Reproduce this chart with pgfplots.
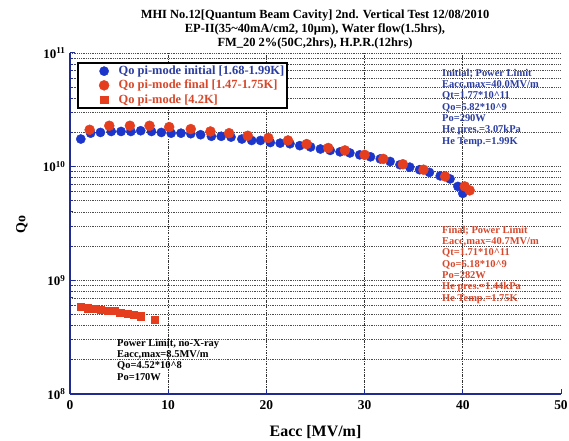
\documentclass[border=0pt]{standalone}
\usepackage{pgfplots}
\pgfplotsset{compat=1.18}
\usepackage{fontspec}
\setmainfont{Liberation Serif}
\definecolor{qblue}{HTML}{1C36CC}
\definecolor{qred}{HTML}{E43E1E}
\definecolor{tblue}{HTML}{2B3DA0}
\definecolor{tred}{HTML}{D8472A}
\definecolor{axnavy}{HTML}{1F2B8F}
\pgfplotsset{markleg/.style={legend image code/.code={\path (0bp,0bp) (38bp,0bp); \draw[##1] plot coordinates {(24bp,0bp)};}}}

\begin{document}
\begin{tikzpicture}
\useasboundingbox (-70bp,-47bp) rectangle (499bp,394bp);
\begin{axis}[
  at={(0,0)}, anchor=south west,
  scale only axis, width=491bp, height=341bp,
  xmin=0, xmax=50, ymin=1e8, ymax=1e11,
  ymode=log,
  axis x line=bottom, axis y line=left,
  axis line style={axnavy, line width=1.3bp, -},
  tick align=inside,
  tick style={axnavy, line width=1bp},
  major tick length=5bp, minor tick length=3.5bp,
  xtick={10,20,30,40},
  extra x ticks={0,50},
  extra x tick style={grid=none},
  ytick={1e8,1e9,1e10,1e11},
  yticklabels={\textbf{10}\textsuperscript{\textbf{8}},\textbf{10}\textsuperscript{\textbf{9}},\textbf{10}\textsuperscript{\textbf{10}},\textbf{10}\textsuperscript{\textbf{11}}},
  minor ytick={2e8,3e8,4e8,5e8,6e8,7e8,8e8,9e8,2e9,3e9,4e9,5e9,6e9,7e9,8e9,9e9,2e10,3e10,4e10,5e10,6e10,7e10,8e10,9e10},
  xmajorgrids, ymajorgrids, yminorgrids,
  x grid style={black!80, line width=0.8bp, dash pattern=on 2.5bp off 1.2bp on 0.8bp off 1.2bp},
  y grid style={black!70, line width=0.75bp, dash pattern=on 0.8bp off 1bp},
  /pgf/number format/assume math mode=true,
  x tick label style={font=\fontsize{13.5}{14}\selectfont\bfseries, yshift=-3bp},
  y tick label style={font=\fontsize{13}{14}\selectfont\bfseries, xshift=-1bp},
  xlabel={Eacc [MV/m]},
  xlabel style={font=\fontsize{16}{18}\selectfont\bfseries, at={(axis description cs:0.5,0)}, anchor=center, yshift=-38bp},
  ylabel={Qo},
  ylabel style={font=\fontsize{14}{16}\selectfont\bfseries, at={(axis description cs:-0.098,0.496)}, anchor=center},
  legend style={at={(axis description cs:0.0143,0.9736)}, anchor=north west,
    draw=black, line width=2.2bp, fill=white, inner xsep=2bp, inner ysep=2.5bp,
    font=\fontsize{12.5}{13}\selectfont\bfseries, row sep=3bp,
    nodes={inner sep=0.5bp}},
  legend cell align=left,
]
\addplot[draw=none, mark=*, mark size=4.6bp, mark options={draw=qblue, fill=qblue, line width=0.4bp}, markleg]
coordinates {
(1.1,1.75e10) (2.1,1.97e10) (3.1,2.0e10) (4.2,2.04e10) (5.2,2.04e10) (6.2,2.04e10)
(7.2,2.07e10) (8.3,2.04e10) (9.3,2.0e10) (10.3,1.97e10) (11.3,1.97e10) (12.3,1.95e10)
(13.3,1.91e10) (14.4,1.85e10) (15.4,1.85e10) (16.4,1.82e10) (17.5,1.75e10) (18.5,1.70e10)
(19.4,1.70e10) (20.4,1.63e10) (21.4,1.61e10) (22.4,1.59e10) (23.4,1.53e10) (24.5,1.49e10)
(25.5,1.43e10) (26.5,1.39e10) (27.5,1.35e10) (28.5,1.32e10) (29.5,1.27e10) (30.6,1.22e10)
(31.6,1.17e10) (32.6,1.11e10) (33.6,1.04e10) (34.6,9.9e9) (35.6,9.4e9) (36.6,8.9e9)
(37.7,8.3e9) (38.7,7.8e9) (39.5,6.7e9) (40.0,5.82e9)
};
\addlegendentry{\textcolor{tblue}{Qo pi-mode initial [1.68-1.99K]}}
\addplot[draw=none, mark=*, mark size=5bp, mark options={draw=qred, fill=qred, line width=0.4bp}, markleg]
coordinates {
(2.0,2.11e10) (4.0,2.29e10) (6.1,2.29e10) (8.1,2.29e10) (10.1,2.23e10) (12.3,2.14e10)
(14.3,2.04e10) (16.2,1.97e10) (18.1,1.87e10) (20.2,1.79e10) (22.2,1.70e10) (24.1,1.58e10)
(26.3,1.46e10) (28.0,1.39e10) (30.0,1.27e10) (31.9,1.17e10) (33.9,1.05e10) (36.0,9.4e9)
(38.2,8.2e9) (40.2,6.7e9) (40.7,6.18e9)
};
\addlegendentry{\textcolor{tred}{Qo pi-mode final [1.47-1.75K]}}
\addplot[draw=none, mark=square*, mark size=3.6bp, mark options={draw=qred, fill=qred, line width=0.3bp}, markleg]
coordinates {
(1.1,5.9e8) (1.8,5.7e8) (2.5,5.6e8) (3.1,5.5e8) (3.8,5.45e8) (4.5,5.4e8)
(5.1,5.2e8) (5.9,5.05e8) (6.5,4.95e8) (7.2,4.83e8) (8.6,4.52e8)
};
\addlegendentry{\textcolor{tred}{Qo pi-mode [4.2K]}}
\end{axis}
% title
\node[anchor=north, align=center, inner sep=0, font=\fontsize{12.5}{13.8}\selectfont\bfseries]
  at (245bp,384bp) {MHI No.12[Quantum Beam Cavity] 2nd. Vertical Test 12/08/2010\\
  EP-II(35\textasciitilde40mA/cm2, 10μm), Water flow(1.5hrs),\\
  FM\_20 2\%(50C,2hrs), H.P.R.(12hrs)};
% annotations
\node[anchor=north west, align=left, inner sep=0, text=tblue, font=\fontsize{10.5}{11.3}\selectfont\bfseries]
  at (372bp,325bp) {Initial; Power Limit\\Eacc,max=40.0MV/m\\Qt=1.77*10\textasciicircum11\\Qo=5.82*10\textasciicircum9\\Po=290W\\He pres.=3.07kPa\\He Temp.=1.99K};
\node[anchor=north west, align=left, inner sep=0, text=tred, font=\fontsize{10.5}{11.3}\selectfont\bfseries]
  at (372bp,168bp) {Final; Power Limit\\Eacc,max=40.7MV/m\\Qt=1.71*10\textasciicircum11\\Qo=6.18*10\textasciicircum9\\Po=282W\\He pres.=1.44kPa\\He Temp.=1.75K};
\node[anchor=north west, align=left, inner sep=0, text=black, font=\fontsize{10.5}{11.3}\selectfont\bfseries]
  at (47bp,55bp) {Power Limit, no-X-ray\\Eacc,max=8.5MV/m\\Qo=4.52*10\textasciicircum8\\Po=170W};
\end{tikzpicture}
\end{document}
